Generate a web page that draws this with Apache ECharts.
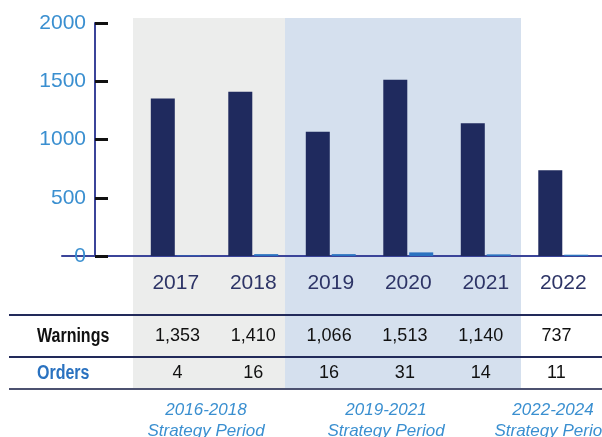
<!DOCTYPE html>
<html>
<head>
<meta charset="utf-8">
<script src="https://cdn.jsdelivr.net/npm/echarts@6/dist/echarts.min.js"></script>
<style>
  html, body { margin: 0; padding: 0; background: #ffffff; }
  #chart { width: 602px; height: 437px; }
</style>
</head>
<body>
<div id="chart"></div>
<script>
// Enforcement activity per year
const years = ['2017', '2018', '2019', '2020', '2021', '2022'];
const warnings = [1353, 1410, 1066, 1513, 1140, 737];
const orders = [4, 16, 16, 31, 14, 11];
const yTickValues = [0, 500, 1000, 1500, 2000];
const rowNames = ['Warnings', 'Orders'];
const periodYears = ['2016-2018', '2019-2021', '2022-2024'];
const periodCaption = 'Strategy Period';

// Colours and fonts
const NAVY = '#1f2a5e';
const BLUE = '#2a72c0';
const LIGHT_BLUE_TEXT = '#3a8fd0';
const AXIS_BLUE = '#3b4499';
const BASE_FONT = '"Liberation Sans", Arial, sans-serif';
const rowHeaderColors = ['#111111', BLUE];

// Layout of the background bands, table rules and period captions
const bands = [
  { x: 133, w: 152, fill: '#ecedec' },
  { x: 285, w: 236, fill: '#d5e0ee' }
];
const ruleRows = [
  { y: 315, color: '#222a5a' },
  { y: 357, color: '#222a5a' },
  { y: 389, color: '#4c5170' }
];
const periodCentres = [206, 386, 553];

const fmt = v => v.toLocaleString('en-US');

const yMin = yTickValues[0];
const yMax = yTickValues[yTickValues.length - 1];
const yStep = yTickValues[1] - yTickValues[0];

// Cells of the table: [column, row, value]
const tableCells = [];
years.forEach((_, i) => {
  tableCells.push([i, 0, warnings[i]]);
  tableCells.push([i, 1, orders[i]]);
});
// Row headers: [column, row]
const headerCells = rowNames.map((_, r) => [0, r]);

const graphics = [];
bands.forEach(b => graphics.push({
  type: 'rect', z: -10, silent: true,
  shape: { x: b.x, y: 18, width: b.w, height: 371 },
  style: { fill: b.fill }
}));
ruleRows.forEach(r => graphics.push({
  type: 'line', z: 5, silent: true,
  shape: { x1: 9, y1: r.y, x2: 602, y2: r.y },
  style: { stroke: r.color, lineWidth: 2 }
}));
periodYears.forEach((p, i) => graphics.push({
  type: 'text', z: 5, silent: true,
  x: periodCentres[i], y: 400,
  style: {
    text: p + '\n' + periodCaption,
    align: 'center', verticalAlign: 'top',
    font: 'italic 17px ' + BASE_FONT,
    lineHeight: 21,
    fill: LIGHT_BLUE_TEXT
  }
}));

const chart = echarts.init(document.getElementById('chart'), null, { renderer: 'canvas' });

chart.setOption({
  animation: false,
  backgroundColor: 'transparent',
  graphic: { elements: graphics },
  grid: [
    { left: 137, top: 23, width: 466, height: 233 },          // bars
    { left: 62, top: 23, width: 540, height: 233 },           // baseline
    { left: 139.7, top: 317.5, width: 454.6, height: 74 }     // table
  ],
  xAxis: [
    {
      type: 'category', gridIndex: 0, data: years,
      axisLine: { show: false }, axisTick: { show: false },
      axisLabel: { color: '#2d3466', fontSize: 21, fontFamily: BASE_FONT, margin: 17 }
    },
    {
      type: 'value', gridIndex: 1, min: 0, max: 1,
      axisLine: { show: true, lineStyle: { color: AXIS_BLUE, width: 2 } },
      axisTick: { show: false }, axisLabel: { show: false }, splitLine: { show: false }
    },
    {
      type: 'category', gridIndex: 2, data: years,
      axisLine: { show: false }, axisTick: { show: false }, axisLabel: { show: false }
    }
  ],
  yAxis: [
    {
      type: 'value', gridIndex: 0, min: yMin, max: yMax, interval: yStep, offset: 42,
      axisLine: { show: true, lineStyle: { color: AXIS_BLUE, width: 2 } },
      axisTick: { show: true, inside: true, length: 13, lineStyle: { color: '#111111', width: 3 } },
      axisLabel: {
        color: LIGHT_BLUE_TEXT, fontSize: 21, fontFamily: BASE_FONT, margin: 9,
        formatter: v => String(v)
      },
      splitLine: { show: false }
    },
    {
      type: 'value', gridIndex: 1, min: 0, max: 1, show: false
    },
    {
      type: 'category', gridIndex: 2, data: rowNames, inverse: true,
      axisLine: { show: false }, axisTick: { show: false }, axisLabel: { show: false }
    }
  ],
  series: [
    {
      name: 'Warnings', type: 'bar', xAxisIndex: 0, yAxisIndex: 0,
      data: warnings, barWidth: 24, barGap: '8%',
      itemStyle: { color: NAVY }, z: 3
    },
    {
      name: 'Orders', type: 'bar', xAxisIndex: 0, yAxisIndex: 0,
      data: orders, barWidth: 24, barGap: '8%',
      itemStyle: { color: BLUE }, z: 3
    },
    {
      name: 'Table', type: 'custom', xAxisIndex: 2, yAxisIndex: 2,
      data: tableCells,
      renderItem: (params, api) => {
        const p = api.coord([api.value(0), api.value(1)]);
        return {
          type: 'text', x: p[0], y: p[1],
          style: {
            text: fmt(api.value(2)),
            align: 'center', verticalAlign: 'middle',
            font: '18px ' + BASE_FONT, fill: '#111111'
          }
        };
      }
    },
    {
      name: 'Row headers', type: 'custom', xAxisIndex: 2, yAxisIndex: 2,
      data: headerCells,
      renderItem: (params, api) => {
        const r = api.value(1);
        const p = api.coord([0, r]);
        // condensed bold header at the left edge of the table
        return {
          type: 'text', x: 37, y: p[1], scaleX: 0.8,
          style: {
            text: rowNames[r],
            align: 'left', verticalAlign: 'middle',
            font: 'bold 20px ' + BASE_FONT, fill: rowHeaderColors[r]
          }
        };
      }
    }
  ]
});
</script>
</body>
</html>
